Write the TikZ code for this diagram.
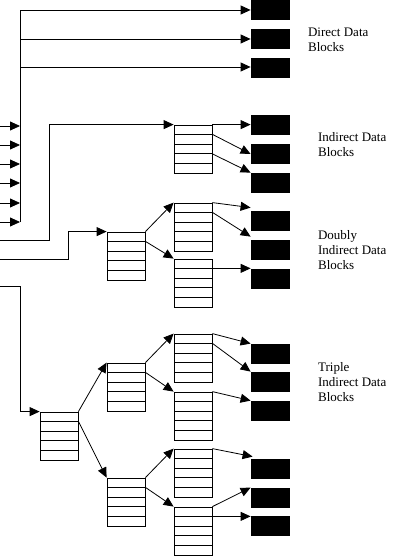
\documentclass[tikz,border=0pt]{standalone}
\usepackage{fontspec}
\setmainfont{Liberation Serif}
\usetikzlibrary{arrows.meta,calc}
\begin{document}
\begin{tikzpicture}[x=1pt,y=-1pt,line width=0.8pt,
  ptr/.style={draw,rectangle,minimum width=38pt,minimum height=48pt,inner sep=0pt,
    path picture={\foreach \k in {1,...,4}
      \draw[line width=0.8pt] ($(path picture bounding box.north west)!\k/5!(path picture bounding box.south west)$) --
            ($(path picture bounding box.north east)!\k/5!(path picture bounding box.south east)$);}},
  datablk/.style={fill=black,rectangle,minimum width=39pt,minimum height=20pt,inner sep=0pt},
  arr/.style={-{Triangle[length=10pt,width=9pt]}},
  lbl/.style={anchor=base west,align=left,inner sep=0pt,font=\fontsize{13}{15}\selectfont}]
\useasboundingbox (0,0) rectangle (406,556);

% data blocks
\node[datablk] (dd1) at (270.5,10) {};
\node[datablk] (dd2) at (270.5,39) {};
\node[datablk] (dd3) at (270.5,68) {};
\node[datablk] (id1) at (270.5,125) {};
\node[datablk] (id2) at (270.5,154) {};
\node[datablk] (id3) at (270.5,183) {};
\node[datablk] (db1) at (270.5,221) {};
\node[datablk] (db2) at (270.5,250) {};
\node[datablk] (db3) at (270.5,279) {};
\node[datablk] (tb1) at (270.5,354) {};
\node[datablk] (tb2) at (270.5,382) {};
\node[datablk] (tb3) at (270.5,411) {};
\node[datablk] (tb4) at (270.5,469) {};
\node[datablk] (tb5) at (270.5,498) {};
\node[datablk] (tb6) at (270.5,526) {};

% pointer blocks
\node[ptr] (I1) at (193,149) {};
\node[ptr] (D1) at (126,256) {};
\node[ptr] (D2a) at (193,227) {};
\node[ptr] (D2b) at (193,283) {};
\node[ptr] (T1) at (59,436) {};
\node[ptr] (T2a) at (126,387) {};
\node[ptr] (T2b) at (126,502) {};
\node[ptr] (T3a) at (193,358) {};
\node[ptr] (T3b) at (193,416) {};
\node[ptr] (T3c) at (193,473) {};
\node[ptr] (T3d) at (193,531) {};

% row coordinates
\foreach \b in {I1,D1,D2a,D2b,T1,T2a,T2b,T3a,T3b,T3c,T3d}
  \coordinate (\b r1) at ($(\b.north east)!0.2!(\b.south east)$);
\coordinate (I1r3) at ($(I1.north east)!0.6!(I1.south east)$);

% direct trunk
\coordinate (trunk) at (20,10);
\coordinate (trunkend) at (20,222);
\draw[arr] (trunkend) -- (trunk) -- (dd1.west);
\draw[arr] (trunk |- dd2.west) -- (dd2.west);
\draw[arr] (trunk |- 0,67) -- (0,67 -| dd3.west);
\foreach \y [count=\i] in {126,145,164,183,203,222} {
  \coordinate (in\i) at (0,\y);
  \draw[arr] (in\i) -- (in\i -| trunk);
}

% feeders
\coordinate (s1) at (0,240); \coordinate (k1) at (49,240);
\draw[arr] (s1) -- (k1) |- (I1.north west);
\coordinate (s2) at (0,259); \coordinate (k2) at (68,259);
\draw[arr] (s2) -- (k2) |- (D1.north west);
\coordinate (s3) at (0,286); \coordinate (k3) at (20,286);
\draw[arr] (s3) -- (k3) |- (T1.north west);

% indirect
\draw[arr] (I1.north east) -- (I1.north east -| id1.west);
\draw[arr] (I1r1) -- (id2.west);
\draw[arr] (I1r3) -- (id3.north west);

% doubly
\draw[arr] (D1.north east) -- (D2a.north west);
\draw[arr] (D1r1) -- (D2b.north west);
\draw[arr] (D2a.north east) -- ($(db1.north west)+(0,-3)$);
\draw[arr] (D2ar1) -- ($(db2.north west)+(0,-3)$);
\draw[arr] (D2br1) -- (D2br1 -| db3.west);

% triple
\draw[arr] (T1.north east) -- (T2a.north west);
\draw[arr] (T1r1) -- (T2b.north west);
\draw[arr] (T2a.north east) -- (T3a.north west);
\draw[arr] (T2ar1) -- (T3b.north west);
\draw[arr] (T2b.north east) -- (T3c.north west);
\draw[arr] (T2br1) -- (T3d.north west);
\draw[arr] (T3a.north east) -- (tb1.north west);
\draw[arr] (T3ar1) -- (tb2.north west);
\draw[arr] (T3b.north east) -- (tb3.north west);
\draw[arr] (T3c.north east) -- ($(tb4.north west)+(2,-2)$);
\draw[arr] (T3dr1) -- (T3dr1 -| tb6.west);
\draw[arr] (T3d.north east) -- (tb5.north west);

% labels (anchored at the baseline of the last line)
\node[lbl] (l1) at (307.7,51.3) {Direct Data\\Blocks};
\node[lbl] (l2) at (317.7,157) {Indirect Data\\Blocks};
\node[lbl] (l3) at (317.7,269) {Doubly\\Indirect Data\\Blocks};
\node[lbl] (l4) at (317.7,401) {Triple\\Indirect Data\\Blocks};
\end{tikzpicture}
\end{document}
